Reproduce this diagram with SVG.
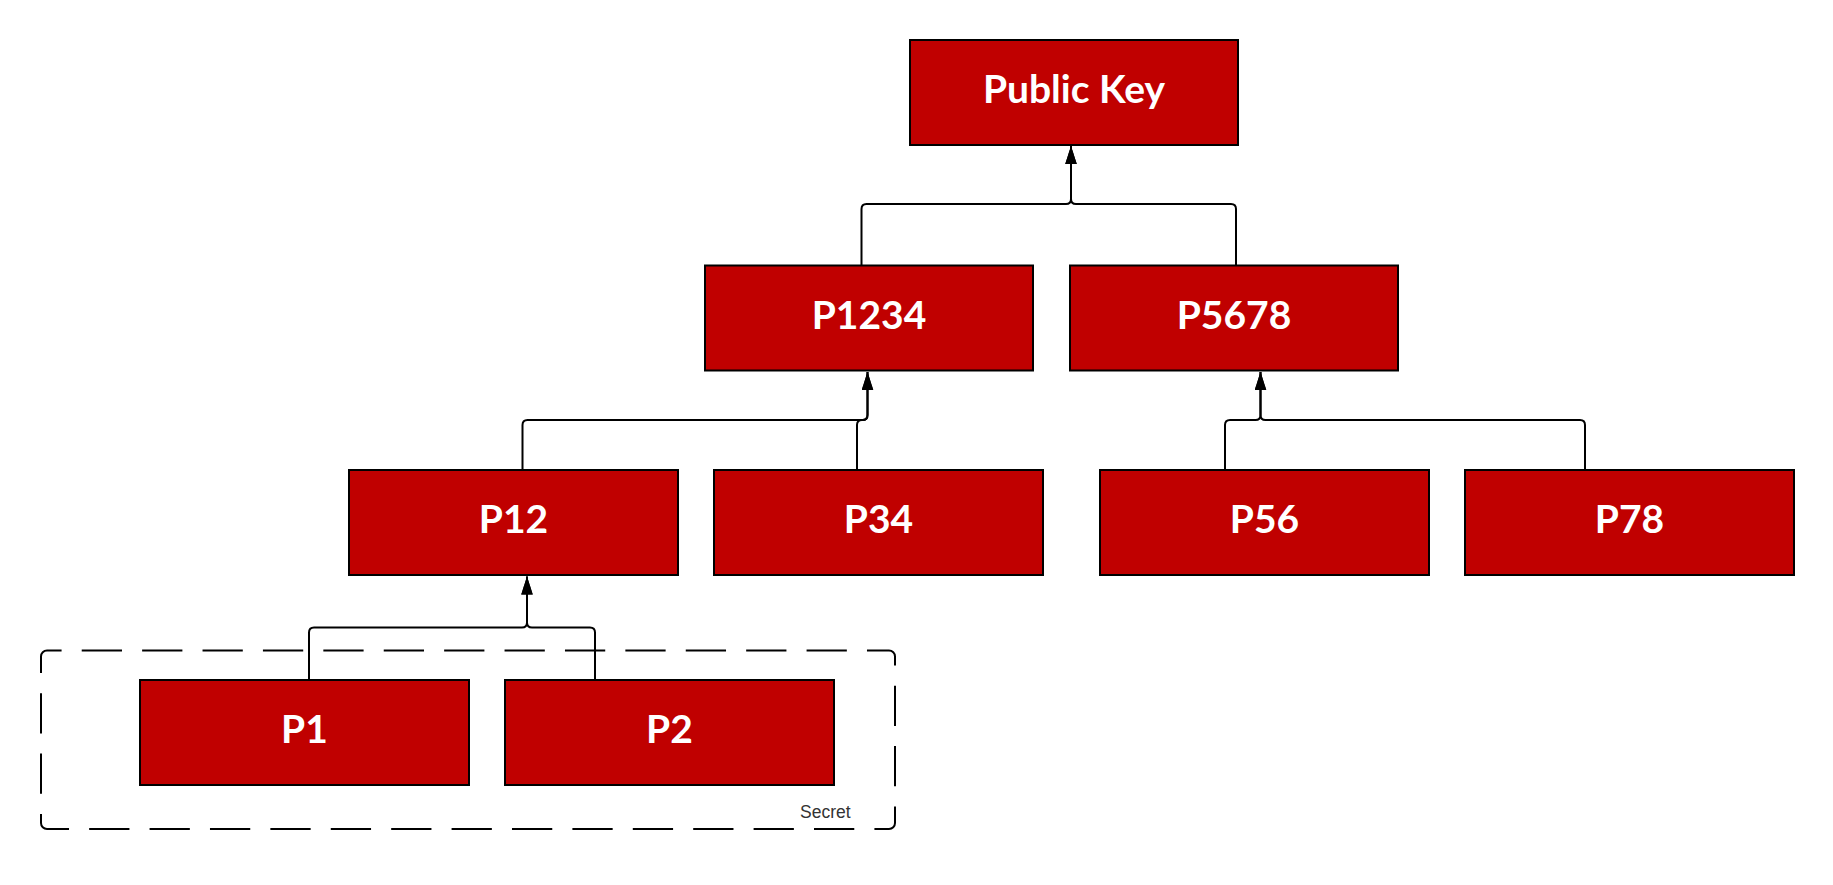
<svg xmlns="http://www.w3.org/2000/svg" width="1833" height="885" viewBox="0 0 1833 885">
  <style>
    .box { fill: #C00000; stroke: #000000; stroke-width: 2; }
    .lbl { font-family: Lato, "Liberation Sans", sans-serif; font-weight: 700; font-size: 39px; fill: #FFFFFF; text-anchor: middle; }
    .conn { fill: none; stroke: #000000; stroke-width: 2; stroke-linejoin: round; }
    .group { fill: none; stroke: #000000; stroke-width: 2; stroke-dasharray: 40 20; }
    .glbl { font-family: "Liberation Sans", Arial, sans-serif; font-size: 17.5px; fill: #333333; }
  </style>
  <defs>
    <marker id="arrow" markerUnits="userSpaceOnUse" markerWidth="18" markerHeight="12" refX="18" refY="5.75" orient="auto" viewBox="0 0 18 11.5">
      <path d="M0,0 L18,5.75 L0,11.5 Z" fill="#000000"/>
    </marker>
  </defs>
  <rect width="1833" height="885" fill="#FFFFFF"/>

  <g id="secret-group">
    <path class="group" pathLength="2040" d="M41,673 V656.5 A6,6 0 0 1 47,650.5 H889 A6,6 0 0 1 895,656.5 V823 A6,6 0 0 1 889,829 H47 A6,6 0 0 1 41,823 Z"/>
    <text class="glbl" x="800" y="818.3">Secret</text>
  </g>

  <g id="connectors">
    <path class="conn" marker-end="url(#arrow)" d="M861.5,265.5 V209 Q861.5,204 866.5,204 H1066 Q1071,204 1071,199 V146"/>
    <path class="conn" marker-end="url(#arrow)" d="M1236,265.5 V209 Q1236,204 1231,204 H1076 Q1071,204 1071,199 V146"/>
    <path class="conn" marker-end="url(#arrow)" d="M522.5,470 V425 Q522.5,420 527.5,420 H862.5 Q867.5,420 867.5,415 V372"/>
    <path class="conn" marker-end="url(#arrow)" d="M857,470 V425 Q857,420 862,420 H862.5 Q867.5,420 867.5,415 V372"/>
    <path class="conn" marker-end="url(#arrow)" d="M1225,470 V425 Q1225,420 1230,420 H1255.5 Q1260.5,420 1260.5,415 V372"/>
    <path class="conn" marker-end="url(#arrow)" d="M1585,470 V425 Q1585,420 1580,420 H1265.5 Q1260.5,420 1260.5,415 V372"/>
    <path class="conn" marker-end="url(#arrow)" d="M309,680 V632.5 Q309,627.5 314,627.5 H522 Q527,627.5 527,622.5 V576.5"/>
    <path class="conn" marker-end="url(#arrow)" d="M595,680 V632.5 Q595,627.5 590,627.5 H532 Q527,627.5 527,622.5 V576.5"/>
  </g>

  <g id="node-public-key">
    <rect class="box" x="910" y="40" width="328" height="105"/>
    <text class="lbl" x="1074" y="103">Public Key</text>
  </g>
  <g id="node-p1234">
    <rect class="box" x="705" y="265.5" width="328" height="105"/>
    <text class="lbl" x="869" y="328.5">P1234</text>
  </g>
  <g id="node-p5678">
    <rect class="box" x="1070" y="265.5" width="328" height="105"/>
    <text class="lbl" x="1234" y="328.5">P5678</text>
  </g>
  <g id="node-p12">
    <rect class="box" x="349" y="470" width="329" height="105"/>
    <text class="lbl" x="513.5" y="533">P12</text>
  </g>
  <g id="node-p34">
    <rect class="box" x="714" y="470" width="329" height="105"/>
    <text class="lbl" x="878.5" y="533">P34</text>
  </g>
  <g id="node-p56">
    <rect class="box" x="1100" y="470" width="329" height="105"/>
    <text class="lbl" x="1264.5" y="533">P56</text>
  </g>
  <g id="node-p78">
    <rect class="box" x="1465" y="470" width="329" height="105"/>
    <text class="lbl" x="1629.5" y="533">P78</text>
  </g>
  <g id="node-p1">
    <rect class="box" x="140" y="680" width="329" height="105"/>
    <text class="lbl" x="304.5" y="743">P1</text>
  </g>
  <g id="node-p2">
    <rect class="box" x="505" y="680" width="329" height="105"/>
    <text class="lbl" x="669.5" y="743">P2</text>
  </g>
</svg>
